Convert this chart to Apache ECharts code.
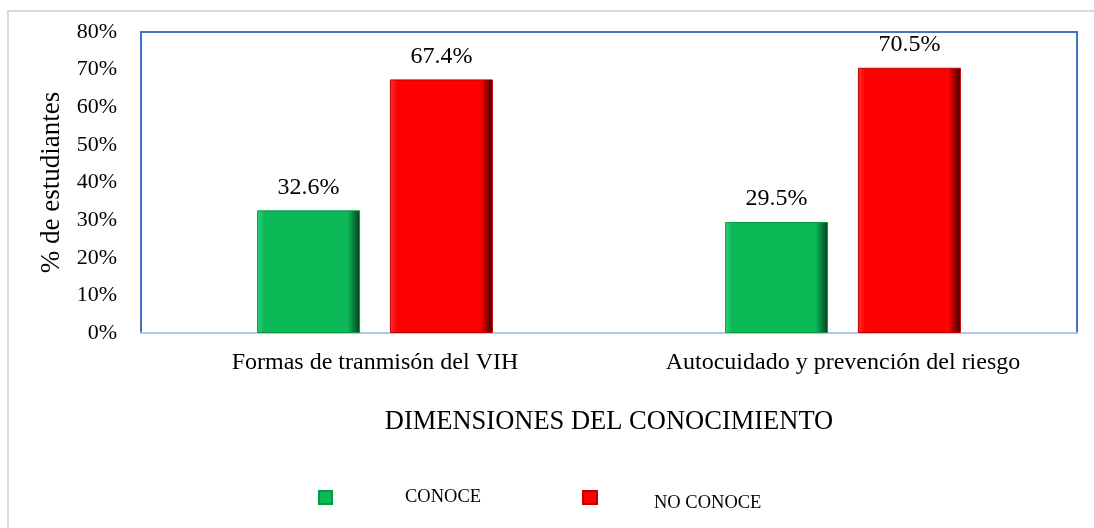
<!DOCTYPE html>
<html>
<head>
<meta charset="utf-8">
<script src="https://cdn.jsdelivr.net/npm/echarts@6/dist/echarts.min.js"></script>
<style>
body{margin:0;background:#fff;}
#chart{width:1094px;height:528px;}
</style>
</head>
<body>
<div id="chart"></div>
<script>
var categories = ['Formas de tranmisón del VIH', 'Autocuidado y prevención del riesgo'];
var conoce = [32.6, 29.5];
var noConoce = [67.4, 70.5];
var yTicks = [0, 10, 20, 30, 40, 50, 60, 70, 80];

var serif = '"Liberation Serif", "DejaVu Serif", serif';

function bevel(base, dark, light) {
    return new echarts.graphic.LinearGradient(0, 0, 1, 0, [
        {offset: 0, color: light},
        {offset: 0.07, color: base},
        {offset: 0.88, color: base},
        {offset: 1, color: dark}
    ]);
}

var chart = echarts.init(document.getElementById('chart'));
var option = {
    animation: false,
    backgroundColor: '#fff',
    graphic: [{
        type: 'rect',
        shape: {x: 8, y: 11, width: 1200, height: 600},
        style: {fill: 'none', stroke: '#d9d9d9', lineWidth: 2},
        silent: true
    }],
    grid: {
        left: 141, right: 17, top: 32, bottom: 195,
        show: true, borderColor: '#4472c4', borderWidth: 2, backgroundColor: 'transparent'
    },
    legend: [{
        data: ['CONOCE'],
        left: 313, top: 483,
        icon: 'rect', itemWidth: 13, itemHeight: 13,
        formatter: '{t|{name}}',
        textStyle: {fontFamily: serif, fontSize: 18.5, color: '#000',
            rich: {t: {fontFamily: serif, fontSize: 18.5, padding: [0, 0, 0, 68]}}}
    }, {
        data: ['NO CONOCE'],
        left: 577, top: 485,
        icon: 'rect', itemWidth: 14, itemHeight: 13,
        formatter: '{t|{name}}',
        textStyle: {fontFamily: serif, fontSize: 18.5, color: '#000',
            rich: {t: {fontFamily: serif, fontSize: 18.5, padding: [12, 0, 0, 52]}}}
    }],
    xAxis: {
        type: 'category',
        data: categories,
        name: 'DIMENSIONES DEL CONOCIMIENTO',
        nameLocation: 'middle',
        nameGap: 76,
        nameTextStyle: {fontFamily: serif, fontSize: 26.5, color: '#000'},
        axisLine: {lineStyle: {color: '#b4c7e7', width: 2}},
        axisTick: {show: false},
        axisLabel: {fontFamily: serif, fontSize: 24, color: '#000', margin: 18}
    },
    yAxis: {
        type: 'value',
        min: 0, max: 80, interval: 10,
        name: '% de estudiantes',
        nameLocation: 'middle',
        nameRotate: 90,
        nameGap: 68,
        nameTextStyle: {fontFamily: serif, fontSize: 27, color: '#000'},
        splitLine: {show: false},
        axisLine: {show: false},
        axisTick: {show: false},
        axisLabel: {
            fontFamily: serif, fontSize: 22, color: '#000', margin: 24,
            formatter: function (v) { return yTicks.indexOf(v) >= 0 ? v + '%' : ''; }
        }
    },
    series: [{
        name: 'CONOCE',
        type: 'bar',
        data: conoce,
        barWidth: '22%',
        barGap: '29%',
        itemStyle: {color: bevel('#0bb856', '#033d1c', '#30d27a'), borderColor: '#079a45', borderWidth: 1},
        label: {show: true, position: 'top', distance: 11, fontFamily: serif, fontSize: 24, color: '#000',
            formatter: function (p) { return p.value.toFixed(1) + '%'; }}
    }, {
        name: 'NO CONOCE',
        type: 'bar',
        data: noConoce,
        barWidth: '22%',
        itemStyle: {color: bevel('#ff0000', '#3a0000', '#ff3030'), borderColor: '#c00000', borderWidth: 1},
        label: {show: true, position: 'top', distance: 11, fontFamily: serif, fontSize: 24, color: '#000',
            formatter: function (p) { return p.value.toFixed(1) + '%'; }}
    }]
};
chart.setOption(option);
</script>
</body>
</html>
